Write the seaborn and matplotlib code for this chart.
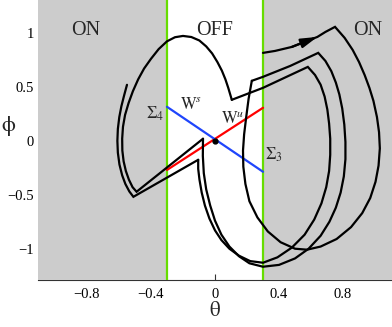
import matplotlib
matplotlib.use("Agg")
import matplotlib.pyplot as plt
import seaborn as sns

# switching manifolds and regions
sigma_theta = [-0.3, 0.3]
xlim = (-1.106, 1.106)
ylim = (-1.29, 1.305)
xticks = [-0.8, -0.4, 0, 0.4, 0.8]
yticks = [-1, -0.5, 0, 0.5, 1]

# invariant manifolds through the saddle at the origin
wu_theta = [-0.3, 0.3]
wu_phi = [-0.27, 0.306]
ws_theta = [-0.3, 0.3]
ws_phi = [0.315, -0.287]

# trajectory (theta, phi)
pass1_theta = [0.30, 0.375, 0.48, 0.56, 0.64, 0.69, 0.75, 0.81, 0.86, 0.90, 0.935, 0.965, 0.99,
               1.012, 1.025, 1.03, 1.022, 1.003, 0.97, 0.92, 0.85, 0.76, 0.66, 0.575, 0.50, 0.41,
               0.33, 0.265, 0.215, 0.19, 0.177, 0.175, 0.182, 0.195, 0.21, 0.23]
pass1_phi = [0.815, 0.833, 0.87, 0.917, 0.963, 1.009, 1.056, 0.954, 0.843, 0.73, 0.61, 0.49,
             0.37, 0.22, 0.08, -0.07, -0.23, -0.38, -0.53, -0.67, -0.80, -0.91, -0.98, -1.009,
             -1.0, -0.94, -0.84, -0.71, -0.56, -0.40, -0.24, -0.09, 0.06, 0.22, 0.39, 0.556]

pass2_theta = [0.23, 0.30, 0.47, 0.645, 0.69, 0.727, 0.755, 0.777, 0.795, 0.808, 0.815, 0.815,
               0.805, 0.785, 0.755, 0.715, 0.66, 0.585, 0.50, 0.40, 0.30, 0.215, 0.15, 0.09,
               0.04, 0.0, -0.03, -0.055, -0.07, -0.076, -0.075]
pass2_phi = [0.556, 0.593, 0.694, 0.815, 0.74, 0.645, 0.54, 0.43, 0.30, 0.15, -0.01, -0.17,
             -0.33, -0.48, -0.62, -0.75, -0.88, -1.0, -1.09, -1.15, -1.167, -1.135, -1.07, -0.98,
             -0.87, -0.74, -0.60, -0.45, -0.30, -0.14, 0.019]

pass3_theta = [-0.075, -0.49, -0.515, -0.538, -0.557, -0.571, -0.579, -0.58, -0.575, -0.562,
               -0.54, -0.513, -0.48, -0.443, -0.40, -0.352, -0.30, -0.25, -0.20, -0.148, -0.098,
               -0.055, -0.018, 0.015, 0.043, 0.065, 0.083, 0.095, 0.105]
pass3_phi = [0.019, -0.472, -0.43, -0.36, -0.28, -0.19, -0.09, 0.02, 0.13, 0.24, 0.35, 0.46,
             0.57, 0.67, 0.76, 0.85, 0.922, 0.96, 0.972, 0.962, 0.93, 0.875, 0.81, 0.73, 0.65,
             0.57, 0.49, 0.43, 0.380]

pass4_theta = [0.105, 0.30, 0.58, 0.625, 0.66, 0.685, 0.702, 0.713, 0.72, 0.72, 0.713, 0.695,
               0.665, 0.62, 0.56, 0.48, 0.39, 0.30, 0.22, 0.15, 0.09, 0.04, 0.0, -0.035, -0.063,
               -0.083, -0.097, -0.105, -0.105]
pass4_phi = [0.380, 0.491, 0.685, 0.61, 0.52, 0.41, 0.29, 0.16, 0.02, -0.13, -0.28, -0.43,
             -0.58, -0.73, -0.87, -0.99, -1.08, -1.13, -1.115, -1.065, -1.0, -0.92, -0.83, -0.72,
             -0.6, -0.48, -0.36, -0.26, -0.176]

pass5_theta = [-0.105, -0.51, -0.535, -0.56, -0.58, -0.597, -0.607, -0.61, -0.607, -0.598,
               -0.585, -0.568, -0.55]
pass5_phi = [-0.176, -0.519, -0.47, -0.4, -0.32, -0.22, -0.11, 0.0, 0.11, 0.22, 0.32, 0.42,
             0.519]

sns.set_style("ticks")
plt.rcParams["font.family"] = ["Liberation Serif", "DejaVu Serif"]
plt.rcParams["mathtext.fontset"] = "stix"

fig = plt.figure(figsize=(3.92, 3.27), dpi=100)
ax = fig.add_axes([38 / 392, 47 / 327, 354 / 392, 280 / 327])

# ON regions (grey) cover spines/ticks like in the original
ax.axvspan(xlim[0], sigma_theta[0], color="#cccccc", lw=0, zorder=3)
ax.axvspan(sigma_theta[1], xlim[1], color="#cccccc", lw=0, zorder=3)
for s in sigma_theta:
    ax.axvline(s, color="#66dd00", lw=1.6, zorder=4)

sns.lineplot(x=wu_theta, y=wu_phi, color="#ff0000", lw=1.6, sort=False, ax=ax, zorder=5)
sns.lineplot(x=ws_theta, y=ws_phi, color="#1f45fc", lw=1.6, sort=False, ax=ax, zorder=5)

for th, ph in [(pass1_theta, pass1_phi), (pass2_theta, pass2_phi), (pass3_theta, pass3_phi),
               (pass4_theta, pass4_phi), (pass5_theta, pass5_phi)]:
    sns.lineplot(x=th, y=ph, color="black", lw=1.6, sort=False, estimator=None, ax=ax,
                 zorder=6, solid_joinstyle="miter")

ax.plot([0], [0], "o", color="black", ms=3.5, zorder=7)

# direction arrow on the first pass
ax.annotate("", xy=(pass1_theta[4], pass1_phi[4]), xytext=(pass1_theta[2], pass1_phi[2]),
            arrowprops=dict(arrowstyle="-|>,head_length=0.7,head_width=0.2", color="black",
                            lw=1.6, shrinkA=0, shrinkB=0, mutation_scale=14), zorder=7)

ax.text(-0.81, 1.02, "ON", fontsize=14.5, ha="center", va="center", zorder=7)
ax.text(0.0, 1.02, "OFF", fontsize=14.5, ha="center", va="center", zorder=7)
ax.text(0.955, 1.02, "ON", fontsize=14.5, ha="center", va="center", zorder=7)
ax.text(-0.375, 0.25, r"$\Sigma_4$", fontsize=12, ha="center", va="center", zorder=7)
ax.text(0.37, -0.13, r"$\Sigma_3$", fontsize=12, ha="center", va="center", zorder=7)
ax.text(-0.15, 0.33, r"$\mathrm{W}^{s}$", fontsize=12, ha="center", va="center", zorder=7)
ax.text(0.11, 0.2, r"$\mathrm{W}^{u}$", fontsize=12, ha="center", va="center", zorder=7)

ax.set_xlim(*xlim)
ax.set_ylim(*ylim)
ax.set_xticks(xticks)
ax.set_yticks(yticks)
ax.set_xticklabels(["\u22120.8", "\u22120.4", "0", "0.4", "0.8"])
ax.set_yticklabels(["\u22121", "\u22120.5", "0", "0.5", "1"])
ax.tick_params(direction="in", length=4, width=0.8, colors="#333333", labelcolor="black",
               labelsize=10.5)
ax.tick_params(axis="x", pad=6)
ax.tick_params(axis="y", pad=3)
for side in ["top", "right", "left"]:
    ax.spines[side].set_visible(False)
ax.spines["bottom"].set_color("#333333")
ax.spines["bottom"].set_linewidth(0.8)

# axis labels, upright Times-like theta / phi
fig.text(215 / 392, 1 - 311 / 327, "\u03b8", fontsize=15, ha="center", va="center",
         family=["STIXGeneral", "DejaVu Serif"])
fig.text(8 / 392, 1 - 126 / 327, "\u03d5", fontsize=16, ha="center", va="center",
         family=["STIXGeneral", "DejaVu Serif"])

fig.savefig("out.png", dpi=100)
